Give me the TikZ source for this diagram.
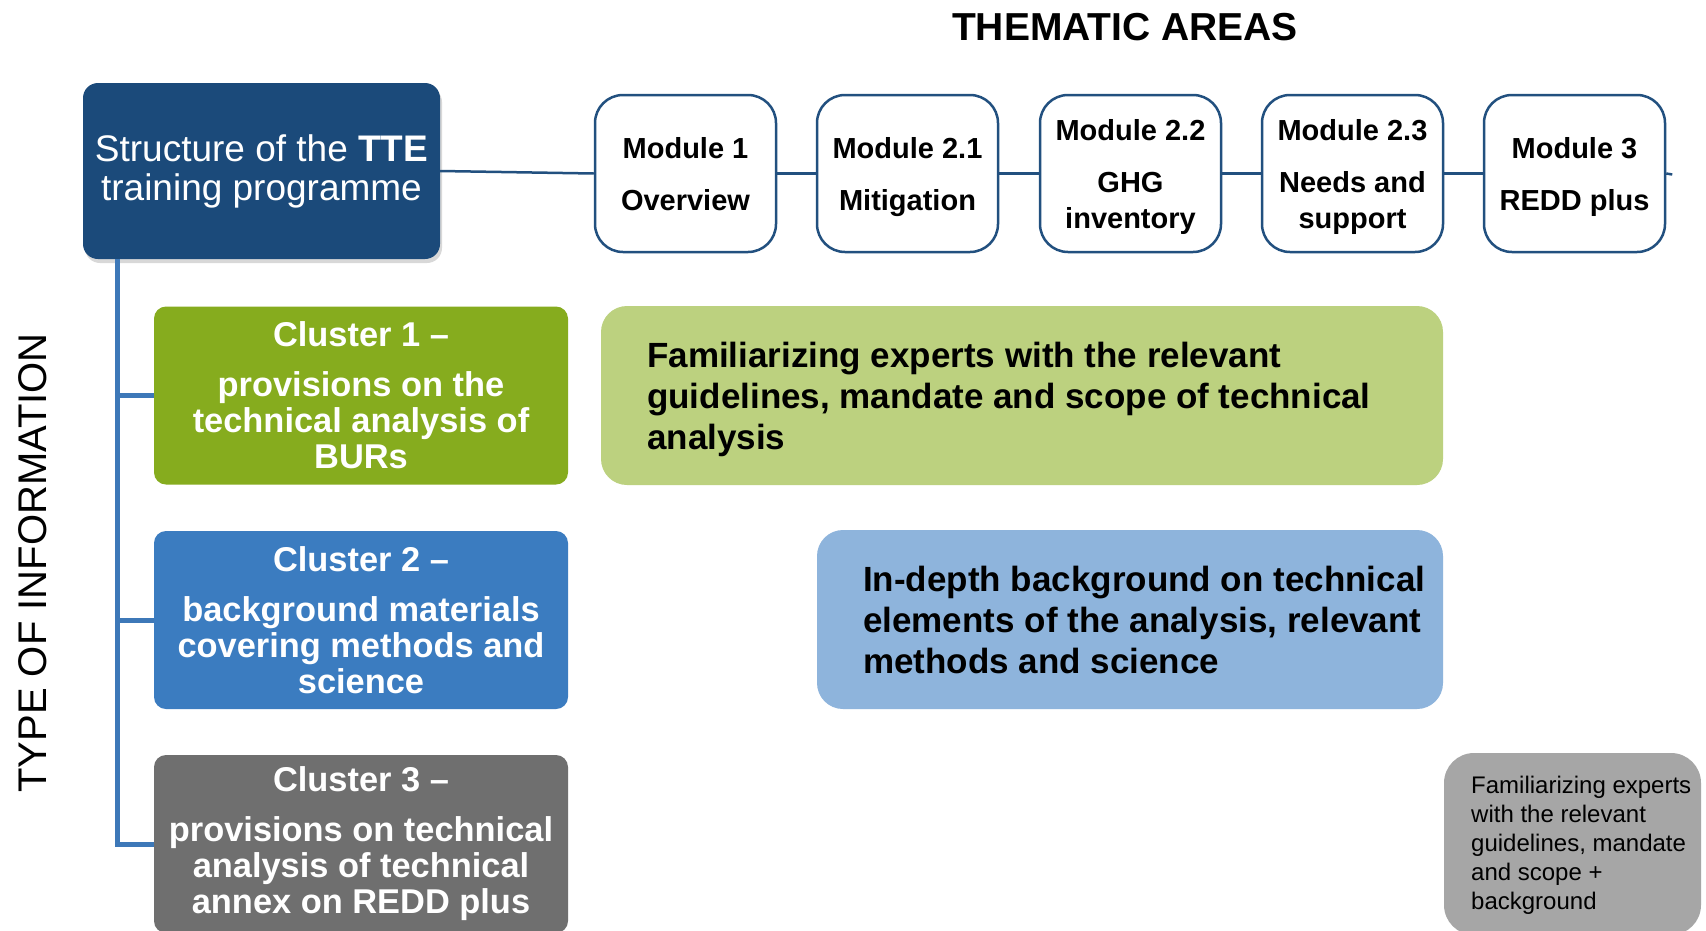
\documentclass[tikz,border=0pt]{standalone}
\usepackage{fontspec}
\setmainfont{Liberation Sans}
\usetikzlibrary{shadows,calc}
\definecolor{navy}{HTML}{1B4A7A}
\definecolor{modborder}{HTML}{22507F}
\definecolor{trunkblue}{HTML}{3D78B8}
\definecolor{cgreen}{HTML}{86AC1E}
\definecolor{cblue}{HTML}{3B7CC0}
\definecolor{cgray}{HTML}{6F6F6F}
\definecolor{lgreen}{HTML}{BCD17F}
\definecolor{lblue}{HTML}{8EB4DC}
\definecolor{lgray}{HTML}{A6A6A6}
\newcommand{\fmod}{\bfseries\fontsize{29}{36}\selectfont}
\newcommand{\fclu}{\bfseries\fontsize{34.4}{36}\selectfont}
\newcommand{\fbig}{\bfseries\fontsize{35}{41}\selectfont}
\newcommand{\fsmall}{\fontsize{24}{29}\selectfont}
\newcommand{\fstruct}{\fontsize{37}{39}\selectfont}
\newcommand{\mtop}{\rule{0pt}{29pt}}
\newcommand{\mbot}{\vphantom{g}}
\tikzset{
  modbox/.style={draw=modborder, line width=2.5pt, rounded corners=28pt, fill=white,
    minimum width=181pt, minimum height=157pt, inner sep=0pt, align=center, font=\fmod},
  clubox/.style={rounded corners=12pt, text=white, minimum width=414pt, minimum height=178pt,
    inner sep=0pt, align=center, font=\fclu},
  widebox/.style={rounded corners=26pt, minimum height=179pt, inner sep=0pt},
  bigtext/.style={anchor=west, align=left, inner sep=0pt, font=\fbig},
  hline/.style={draw=modborder, line width=2.5pt},
  trunk/.style={draw=trunkblue, line width=5pt},
}
\begin{document}
\begin{tikzpicture}[x=1pt,y=-1pt]
\clip (0,0) rectangle (1706,930);
\fill[white] (0,0) rectangle (1706,930);

% title
\node[font=\bfseries\fontsize{39}{41}\selectfont, inner sep=0pt] (title) at (1125,27) {THEMATIC AREAS};

% type of information
\node[rotate=90, font=\fontsize{40}{42}\selectfont, inner sep=0pt] (typeinfo) at (33,563) {TYPE OF INFORMATION};

% structure box
\node[fill=navy, rounded corners=15pt, minimum width=357pt, minimum height=176pt, inner sep=0pt,
  text=white, align=center, font=\fstruct,
  drop shadow={shadow xshift=2pt, shadow yshift=-4pt, opacity=0.3}] (struct) at (261.5,171)
  {Structure of the \textbf{TTE}\\ training programme};

% modules
\node[modbox] (m1) at (685.5,173.5) {\mtop Module 1\\[16pt]Overview\mbot};
\node[modbox] (m21) at (907.5,173.5) {\mtop Module 2.1\\[16pt]Mitigation\mbot};
\node[modbox] (m22) at (1130.5,173.5) {\mtop Module 2.2\\[16pt]GHG\\inventory\mbot};
\node[modbox] (m23) at (1352.5,173.5) {\mtop Module 2.3\\[16pt]Needs and\\support\mbot};
\node[modbox] (m3) at (1574.5,173.5) {\mtop Module 3\\[16pt]REDD plus\mbot};
\coordinate (m3end) at ($(m3.east)+(6,1)$);

\draw[hline] (struct.east) -- (m1.west);
\draw[hline] (m1.east) -- (m21.west);
\draw[hline] (m21.east) -- (m22.west);
\draw[hline] (m22.east) -- (m23.west);
\draw[hline] (m23.east) -- (m3.west);
\draw[hline] (m3.east) -- (m3end);

% clusters
\node[clubox, fill=cgreen] (c1) at (361,395.5)
  {Cluster 1 --\\[14pt]provisions on the\\technical analysis of\\BURs};
\node[clubox, fill=cblue] (c2) at (361,620)
  {Cluster 2 --\\[14pt]background materials\\covering methods and\\science};
\node[clubox, fill=cgray] (c3) at (361,844)
  {Cluster 3 --\\[14pt]provisions on technical\\analysis of technical\\annex on REDD plus};

% trunk
\coordinate (trunktop) at ($(struct.south west)+(34.5,0)$);
\draw[trunk] (trunktop) |- (c3.west);
\draw[trunk] (trunktop) |- (c1.west);
\draw[trunk] (trunktop) |- (c2.west);

% wide boxes
\node[widebox, fill=lgreen, minimum width=842pt] (wg) at (1022,395.5) {};
\node[bigtext] (wgt) at (647,399.5)
  {Familiarizing experts with the relevant\\guidelines, mandate and scope of technical\\analysis};
\node[widebox, fill=lblue, minimum width=626pt] (wb) at (1130,619.5) {};
\node[bigtext] (wbt) at (863,619.5)
  {In-depth background on technical\\elements of the analysis, relevant\\methods and science};
\node[rounded corners=30pt, fill=lgray, minimum width=257pt, minimum height=182pt, inner sep=0pt] (gb) at (1572.5,844) {};
\node[anchor=west, align=left, inner sep=0pt, font=\fsmall] (gbt) at (1471,845)
  {Familiarizing experts\\with the relevant\\guidelines, mandate\\and scope +\\background};
\end{tikzpicture}
\end{document}
